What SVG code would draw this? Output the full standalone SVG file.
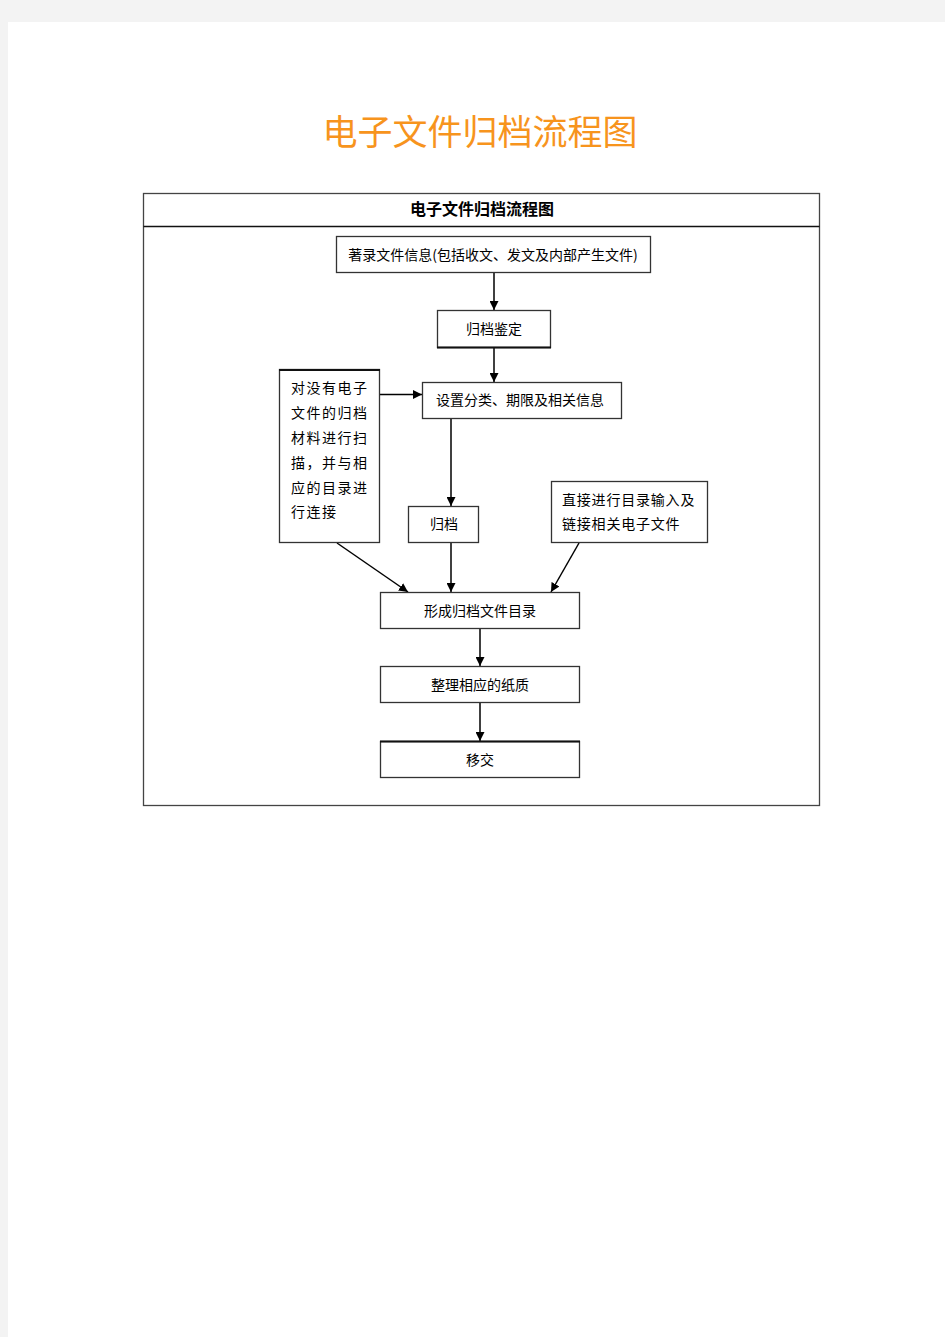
<svg xmlns="http://www.w3.org/2000/svg" width="945" height="1337" viewBox="0 0 945 1337">
<defs>
<style>
.bx{fill:#fff;stroke:#333;stroke-width:1.3}
.t{font-family:"Noto Sans CJK SC","Liberation Sans",sans-serif;font-size:14px;fill:#000}
.c{stroke:#000;stroke-width:1.5;fill:none;marker-end:url(#ah)}
</style>
<marker id="ah" viewBox="0 0 10 10" refX="10" refY="5" markerWidth="9" markerHeight="9" orient="auto" markerUnits="userSpaceOnUse"><path d="M0,0L10,5L0,10z" fill="#000"/></marker>
</defs>
<rect x="0" y="0" width="945" height="1337" fill="#f3f3f3"/>
<rect x="8" y="22" width="937" height="1315" fill="#fff"/>
<text x="480" y="145" text-anchor="middle" font-family="'Noto Sans CJK SC',sans-serif" font-size="35" fill="#f7941d">电子文件归档流程图</text>
<g id="frame">
<rect x="143.5" y="193.5" width="676" height="612" fill="none" stroke="#444" stroke-width="1.3"/>
<line x1="143.5" y1="226.5" x2="819.5" y2="226.5" stroke="#111" stroke-width="1.3"/>
<text x="482" y="215" text-anchor="middle" font-family="'Noto Sans CJK SC',sans-serif" font-size="16" font-weight="bold" fill="#000">电子文件归档流程图</text>
</g>
<g id="connectors">
<line class="c" x1="494" y1="273" x2="494" y2="310"/>
<line class="c" x1="494" y1="348" x2="494" y2="382"/>
<line class="c" x1="380" y1="394.5" x2="422" y2="394.5"/>
<line class="c" x1="451" y1="419" x2="451" y2="506"/>
<line class="c" x1="451" y1="543" x2="451" y2="592"/>
<line class="c" x1="337" y1="543" x2="408" y2="592"/>
<line class="c" x1="579" y1="543" x2="551" y2="592"/>
<line class="c" x1="480" y1="629" x2="480" y2="666"/>
<line class="c" x1="480" y1="703" x2="480" y2="741"/>
</g>
<g id="n1"><rect class="bx" x="336.5" y="236.5" width="314" height="36"/><text class="t" x="493" y="260" text-anchor="middle">著录文件信息(包括收文、发文及内部产生文件)</text></g>
<g id="n2"><rect class="bx" x="437.5" y="310.5" width="113" height="37"/><line x1="437" y1="347.5" x2="551" y2="347.5" stroke="#111" stroke-width="2"/><text class="t" x="494" y="334" text-anchor="middle">归档鉴定</text></g>
<g id="n3"><rect class="bx" x="422.5" y="382.5" width="199" height="36"/><text class="t" x="520" y="405" text-anchor="middle">设置分类、期限及相关信息</text></g>
<g id="n4"><rect class="bx" x="279.5" y="369.5" width="100" height="173"/><line x1="279" y1="370" x2="380" y2="370" stroke="#111" stroke-width="2"/>
<text class="t" font-size="15" letter-spacing="1.5" x="291" y="393">对没有电子</text>
<text class="t" font-size="15" letter-spacing="1.5" x="291" y="418">文件的归档</text>
<text class="t" font-size="15" letter-spacing="1.5" x="291" y="443">材料进行扫</text>
<text class="t" font-size="15" letter-spacing="1.5" x="291" y="468">描，并与相</text>
<text class="t" font-size="15" letter-spacing="1.5" x="291" y="493">应的目录进</text>
<text class="t" font-size="15" letter-spacing="1.5" x="291" y="517">行连接</text></g>
<g id="n5"><rect class="bx" x="408.5" y="506.5" width="70" height="36"/><text class="t" x="444" y="529" text-anchor="middle">归档</text></g>
<g id="n6"><rect class="bx" x="551.5" y="481.5" width="156" height="61"/>
<text class="t" letter-spacing="0.8" x="562" y="505">直接进行目录输入及</text>
<text class="t" letter-spacing="0.8" x="562" y="529">链接相关电子文件</text></g>
<g id="n7"><rect class="bx" x="380.5" y="592.5" width="199" height="36"/><text class="t" x="480" y="616" text-anchor="middle">形成归档文件目录</text></g>
<g id="n8"><rect class="bx" x="380.5" y="666.5" width="199" height="36"/><text class="t" x="480" y="690" text-anchor="middle">整理相应的纸质</text></g>
<g id="n9"><rect class="bx" x="380.5" y="741.5" width="199" height="36"/><line x1="380" y1="741.5" x2="580" y2="741.5" stroke="#111" stroke-width="2"/><text class="t" x="480" y="765" text-anchor="middle">移交</text></g>
</svg>
